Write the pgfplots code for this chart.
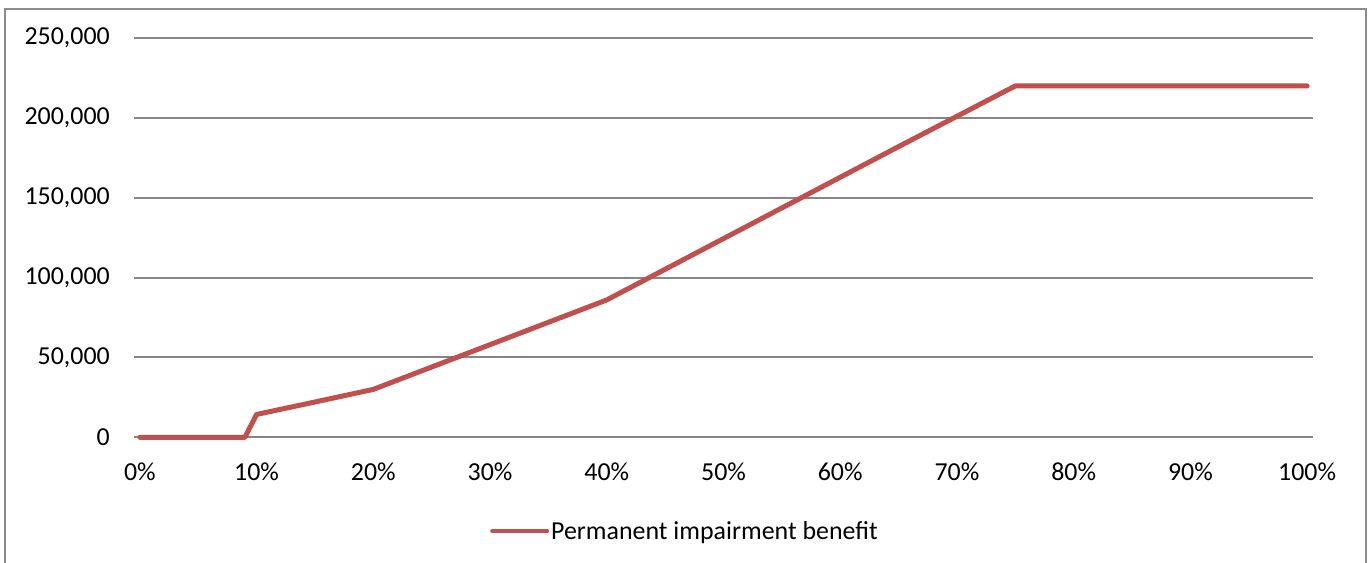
\documentclass[border=0pt]{standalone}
\usepackage{fontspec}
\setmainfont{Carlito}
\usepackage{pgfplots}
\pgfplotsset{compat=1.18}

\definecolor{linered}{HTML}{C0504D}
\definecolor{gridgray}{HTML}{868686}
\definecolor{framegray}{HTML}{8C8C8C}

\begin{document}
\begin{tikzpicture}
  \useasboundingbox (0bp,0bp) rectangle (1371bp,563bp);
  % chart frame, bottom edge runs off the page
  \draw[framegray, line width=1.5bp] (5bp,554bp) rectangle (1366bp,-20bp);

  \begin{axis}[
    at={(134bp,125.7bp)}, anchor=south west,
    width=1179bp, height=399.3bp, scale only axis,
    xmin=-0.5, xmax=100.5,
    ymin=0, ymax=250000,
    xtick={0,10,...,100},
    xticklabels={0\%,10\%,20\%,30\%,40\%,50\%,60\%,70\%,80\%,90\%,100\%},
    ytick={0,50000,...,250000},
    scaled y ticks=false,
    /pgf/number format/.cd, fixed, 1000 sep={,}, assume math mode=true, /pgfplots/.cd,
    major tick length=0pt,
    axis line style={draw=none},
    ymajorgrids,
    grid style={gridgray, line width=2bp},
    tick label style={font=\fontsize{26}{31}\selectfont},
    xticklabel style={anchor=center, inner sep=0pt, yshift=-34bp},
    yticklabel style={anchor=east, inner sep=0pt, xshift=-24bp},
    clip=false,
    legend style={
      at={(0.4673,-0.2347)}, anchor=center,
      draw=none, fill=none,
      font=\fontsize{26}{31}\selectfont,
      inner sep=0pt,
      /tikz/every even column/.append style={column sep=0pt},
    },
    legend cell align=left,
    legend image code/.code={
      \draw[#1, line width=4bp, line cap=round] (0bp,0bp) -- (55bp,0bp);
    },
  ]
    \addplot[linered, line width=5bp, line join=round, line cap=round] coordinates {
      (0,0) (1,0) (2,0) (3,0) (4,0) (5,0) (6,0) (7,0) (8,0) (9,0)
      (10,14300)
      (15,22100)
      (20,30000)
      (25,44000)
      (30,58000)
      (35,72000)
      (40,86000)
      (45,105200)
      (50,124400)
      (55,143600)
      (60,162800)
      (65,182000)
      (70,201000)
      (75,220000)
      (80,220000) (85,220000) (90,220000) (95,220000) (100,220000)
    };
    \addlegendentry{Permanent impairment benefit}
  \end{axis}
\end{tikzpicture}
\end{document}
